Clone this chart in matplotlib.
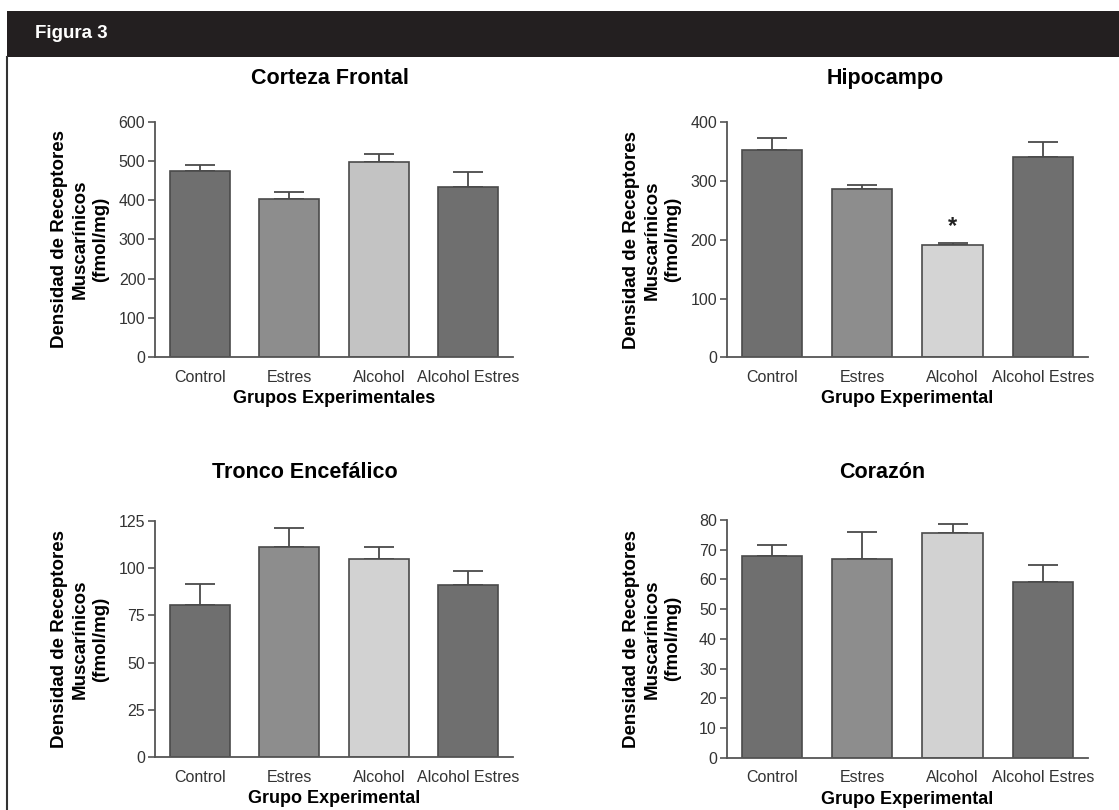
# -*- coding: utf-8 -*-
"""
Figura 3 - densidad de receptores muscarinicos por grupo experimental
"""
import matplotlib
matplotlib.use("Agg")
import matplotlib.pyplot as plt
from matplotlib.patches import Rectangle
from matplotlib.lines import Line2D

plt.rcParams['font.family'] = ['Liberation Sans', 'DejaVu Sans']

# data
grupos = ['Control', 'Estres', 'Alcohol', 'Alcohol Estres']

corteza = [474, 402, 497, 434]
corteza_err = [16, 18, 20, 38]

hipocampo = [352, 287, 191, 341]
hipocampo_err = [21, 7, 3, 25]

tronco = [80.5, 111.3, 104.8, 91.0]
tronco_err = [11.0, 9.7, 6.5, 7.6]

corazon = [67.9, 66.9, 75.5, 59.0]
corazon_err = [3.7, 9.2, 3.2, 5.9]

W, H = 1119, 810
fig = plt.figure(figsize=(W / 100, H / 100), dpi=100)


def px(x, y):
    # pixel (from top-left) -> figure fraction
    return x / W, 1 - y / H


# header bar and left frame line
fig.patches.append(Rectangle(px(7, 57), (W - 7) / W, 46 / H, transform=fig.transFigure,
                             facecolor='#231f20', edgecolor='none'))
fig.lines.append(Line2D([7 / W, 7 / W], [0, 1 - 57 / H], transform=fig.transFigure,
                        color='#333333', lw=1.5))
fig.text(*px(35, 34), 'Figura 3', color='white', fontsize=13.5, fontweight='bold',
         ha='left', va='center')

ylab = 'Densidad de Receptores\nMuscarínicos\n(fmol/mg)'
axis_col = '#555555'
edge_col = '#4a4a4a'


def panel(rect, vals, errs, ymax, step, title, title_xy, title_size, xlabel, alc_color):
    x0, y0, x1, y1 = rect
    ax = fig.add_axes([x0 / W, 1 - y1 / H, (x1 - x0) / W, (y1 - y0) / H])
    colors = ['#6f6f6f', '#8d8d8d', alc_color, '#6f6f6f']
    pos = range(len(grupos))
    ax.bar(pos, vals, width=0.67, color=colors, edgecolor=edge_col, linewidth=1.2,
           zorder=2)
    ax.errorbar(pos, vals, yerr=[[0] * len(errs), errs], fmt='none', ecolor=edge_col,
                elinewidth=1.3, capsize=11, capthick=1.3, zorder=1)
    ax.set_xlim(-0.5, 3.5)
    ax.set_ylim(0, ymax)
    ax.set_yticks(range(0, ymax + 1, step))
    ax.set_xticks(list(pos))
    ax.set_xticklabels(grupos)
    for s in ['top', 'right']:
        ax.spines[s].set_visible(False)
    for s in ['left', 'bottom']:
        ax.spines[s].set_color(axis_col)
        ax.spines[s].set_linewidth(1.3)
    ax.tick_params(axis='y', direction='out', length=5, width=1.2, color=axis_col,
                   labelsize=11.5, labelcolor='#333333', pad=2)
    ax.tick_params(axis='x', length=0, labelsize=11.5, labelcolor='#333333', pad=9)
    ax.set_ylabel(ylab, fontsize=13.5, fontweight='bold', linespacing=1.25)
    ax.yaxis.set_label_coords(-46 / (x1 - x0), 0.5)
    ax.set_xlabel(xlabel, fontsize=13, fontweight='bold')
    ax.xaxis.set_label_coords(0.5, -33 / (y1 - y0))
    fig.text(*px(*title_xy), title, fontsize=title_size, fontweight='bold', ha='center',
             va='baseline')
    return ax


panel((155, 121.7, 513, 357), corteza, corteza_err, 600, 100, 'Corteza Frontal',
      (330, 84), 15.5, 'Grupos Experimentales', '#c3c3c3')
ax2 = panel((726.7, 122.3, 1088, 357.3), hipocampo, hipocampo_err, 400, 100, 'Hipocampo',
            (885, 84), 15.5, 'Grupo Experimental', '#d4d4d4')
panel((155, 520.7, 513, 757.3), tronco, tronco_err, 125, 25, 'Tronco Encefálico',
      (305, 478), 15.5, 'Grupo Experimental', '#d2d2d2')
panel((726.7, 520, 1088, 757.7), corazon, corazon_err, 80, 10, 'Corazón',
      (882, 478), 15.5, 'Grupo Experimental', '#d2d2d2')

# significance mark over Alcohol in Hipocampo
ax2.text(2, hipocampo[2] + hipocampo_err[2] + 29, '*', fontsize=17, fontweight='bold',
         ha='center', va='center', color='#222222')

fig.savefig('out.png', dpi=100)
